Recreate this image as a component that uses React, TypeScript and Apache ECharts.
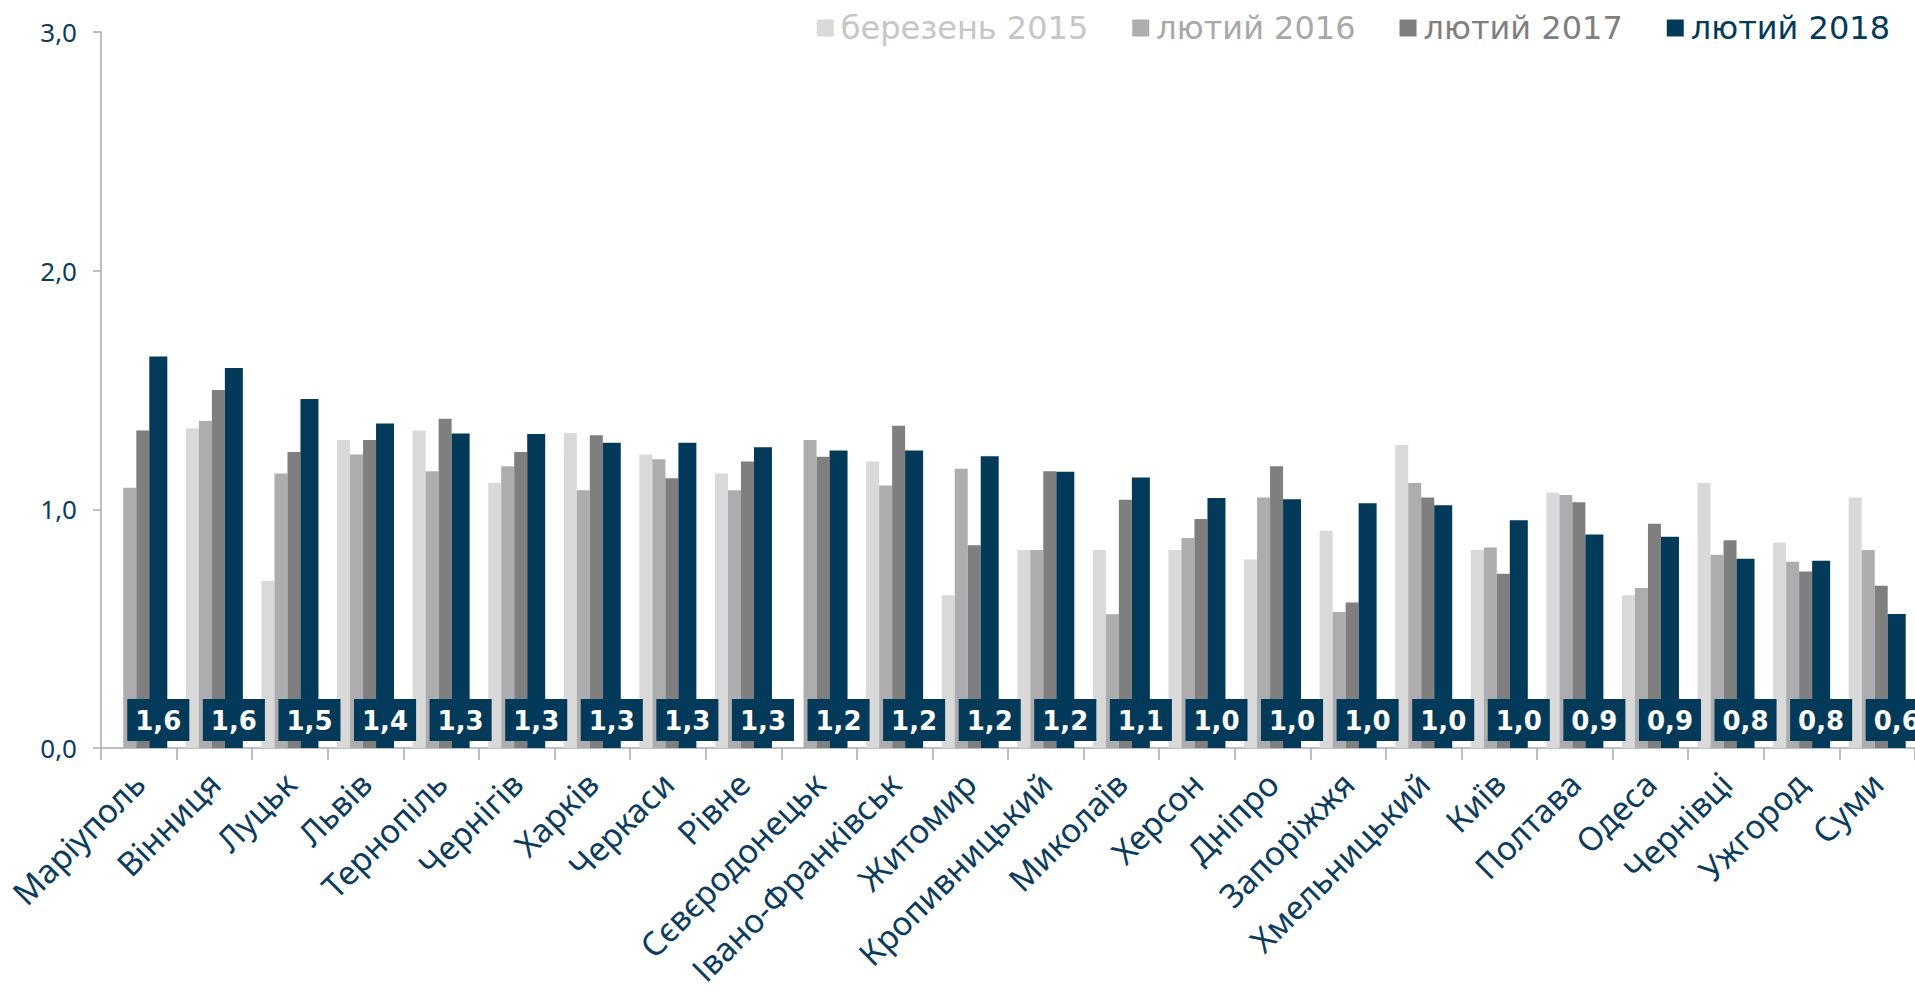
import React, { useEffect, useRef } from "react";
import * as echarts from "echarts";

const categories = [
  "Маріуполь", "Вінниця", "Луцьк", "Львів", "Тернопіль", "Чернігів", "Харків", "Черкаси",
  "Рівне", "Сєвєродонецьк", "Івано-Франківськ", "Житомир", "Кропивницький", "Миколаїв",
  "Херсон", "Дніпро", "Запоріжжя", "Хмельницький", "Київ", "Полтава", "Одеса", "Чернівці",
  "Ужгород", "Суми",
];

const seriesNames = ["березень 2015", "лютий 2016", "лютий 2017", "лютий 2018"];

const values2015 = [null, 1.34, 0.70, 1.29, 1.33, 1.11, 1.32, 1.23, 1.15, null, 1.20, 0.64, 0.83, 0.83, 0.83, 0.79, 0.91, 1.27, 0.83, 1.07, 0.64, 1.11, 0.86, 1.05];
const values2016 = [1.09, 1.37, 1.15, 1.23, 1.16, 1.18, 1.08, 1.21, 1.08, 1.29, 1.10, 1.17, 0.83, 0.56, 0.88, 1.05, 0.57, 1.11, 0.84, 1.06, 0.67, 0.81, 0.78, 0.83];
const values2017 = [1.33, 1.50, 1.24, 1.29, 1.38, 1.24, 1.31, 1.13, 1.20, 1.22, 1.35, 0.85, 1.16, 1.04, 0.96, 1.18, 0.61, 1.05, 0.73, 1.03, 0.94, 0.87, 0.74, 0.68];
const values2018 = [1.640, 1.592, 1.462, 1.360, 1.318, 1.316, 1.279, 1.279, 1.260, 1.247, 1.247, 1.222, 1.157, 1.133, 1.047, 1.042, 1.025, 1.017, 0.954, 0.895, 0.885, 0.793, 0.785, 0.561];

const yMin = 0;
const yMax = 3;
const yInterval = 1;

const colors = ["#d9d9d9", "#adadaf", "#7f7f7f", "#033a5a"];
const legendTextColors = ["#c6c6c6", "#a8a8a8", "#7f7f7f", "#033a5a"];
const barWidths = [13, 13, 13, 18];

const AXIS_COLOR = "#a6aab2";
const TEXT_COLOR = "#0b3c5d";

const fmt = (v: number) => v.toFixed(1).replace(".", ",");

export default function App() {
  const ref = useRef<HTMLDivElement>(null);

  useEffect(() => {
    if (!ref.current) return;
    const chart = echarts.init(ref.current, undefined, { renderer: "svg" });
    const allValues = [values2015, values2016, values2017, values2018];

    const series = allValues.map((vals, i) => ({
      name: seriesNames[i],
      type: "bar",
      data: vals,
      barWidth: barWidths[i],
      barGap: "0%",
      itemStyle: { color: colors[i] },
      label:
        i === 3
          ? {
              show: true,
              position: "insideBottom",
              distance: 7,
              formatter: (p: any) => fmt(p.value),
              color: "#ffffff",
              fontFamily: "DejaVu Sans",
              fontWeight: "bold",
              fontSize: 26,
              lineHeight: 30,
              backgroundColor: "#033a5a",
              padding: [7, 8, 5, 8],
            }
          : { show: false },
    }));

    chart.setOption({
      animation: false,
      backgroundColor: "#ffffff",
      legend: {
        right: 20,
        top: 7,
        itemWidth: 17,
        itemHeight: 17,
        itemGap: 44,
        icon: "rect",
        textStyle: { fontFamily: "DejaVu Sans", fontSize: 32, padding: [0, 0, 0, 2] },
        data: seriesNames.map((n, i) => ({
          name: n,
          textStyle: { color: legendTextColors[i] },
        })),
      },
      grid: { left: 101, top: 32, width: 1816, height: 716, containLabel: false },
      xAxis: {
        type: "category",
        data: categories,
        axisLine: { lineStyle: { color: AXIS_COLOR, width: 1.5 } },
        axisTick: { show: true, length: 12, lineStyle: { color: AXIS_COLOR, width: 1.5 } },
        axisLabel: {
          interval: 0,
          rotate: 45,
          margin: 30,
          color: TEXT_COLOR,
          fontFamily: "Noto Sans",
          fontSize: 33,
        },
      },
      yAxis: {
        type: "value",
        min: yMin,
        max: yMax,
        interval: yInterval,
        splitLine: { show: false },
        axisLine: { show: true, lineStyle: { color: AXIS_COLOR, width: 1.5 } },
        axisTick: { show: true, length: 8, lineStyle: { color: AXIS_COLOR, width: 1.5 } },
        axisLabel: {
          margin: 24,
          color: TEXT_COLOR,
          fontFamily: "Noto Sans",
          fontSize: 26,
          formatter: (v: number) => fmt(v),
        },
      },
      series,
    });

    return () => chart.dispose();
  }, []);

  return (
    <div
      ref={ref}
      style={{ position: "fixed", left: 0, top: 0, width: 1915, height: 1004, background: "#fff" }}
    />
  );
}
